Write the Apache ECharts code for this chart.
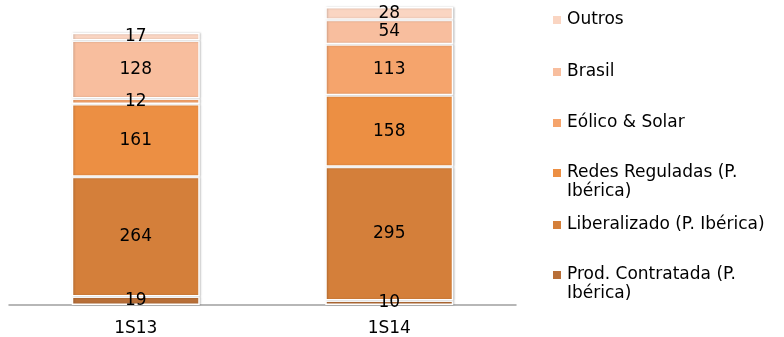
<html lang="en">
  <head>
    <meta charset="UTF-8" />
    <title>Document</title>
  </head>
  <body style="margin: 0">
    <div id="main" style="width: 784px; height: 337px"></div>

    <script src="https://cdn.jsdelivr.net/npm/echarts@6/dist/echarts.min.js"></script>
    <script>
      // dados
      const categories = ['1S13', '1S14']
      const prodContratada = [19, 10]
      const liberalizado = [264, 295]
      const redesReguladas = [161, 158]
      const eolicoSolar = [12, 113]
      const brasil = [128, 54]
      const outros = [17, 28]

      const seriesNames = [
        'Prod. Contratada (P. Ibérica)',
        'Liberalizado (P. Ibérica)',
        'Redes Reguladas (P. Ibérica)',
        'Eólico & Solar',
        'Brasil',
        'Outros'
      ]
      const seriesData = [prodContratada, liberalizado, redesReguladas, eolicoSolar, brasil, outros]
      const colors = ['#B86F38', '#D47F3A', '#EC8F43', '#F5A46C', '#F8BE9E', '#FAD5C2']

      const font = 'DejaVu Sans'

      // legenda: texto por linha e posição vertical do marcador (centro)
      // linha vazia inicial: o marcador fica alinhado com a 1ª linha do texto
      const legendText = {
        'Outros': 'Outros',
        'Brasil': 'Brasil',
        'Eólico & Solar': 'Eólico & Solar',
        'Redes Reguladas (P. Ibérica)': ' \nRedes Reguladas (P.\nIbérica)',
        'Liberalizado (P. Ibérica)': 'Liberalizado (P. Ibérica)',
        'Prod. Contratada (P. Ibérica)': ' \nProd. Contratada (P.\nIbérica)'
      }
      const legendCenters = [20, 72, 123, 173, 225, 275]
      const legendOrder = seriesNames.slice().reverse()

      const legends = legendOrder.map((name, i) => {
        const multi = legendText[name].indexOf('\n') >= 0
        return {
          data: [name],
          orient: 'vertical',
          left: 551,
          top: multi ? legendCenters[i] - 28.5 : legendCenters[i] - 9.5,
          padding: 0,
          itemWidth: 10,
          itemHeight: 10,
          itemGap: 0,
          icon: 'rect',
          selectedMode: false,
          formatter: (n) => legendText[n],
          textStyle: {
            fontFamily: font,
            fontSize: 17,
            color: '#000',
            lineHeight: 19
          }
        }
      })

      const option = {
        animation: false,
        color: colors,
        grid: { left: 9, top: 7, width: 507, bottom: 32 },
        legend: legends,
        xAxis: {
          type: 'category',
          data: categories,
          axisLine: { lineStyle: { color: '#A0A0A0', width: 1.5 } },
          axisTick: { show: false },
          axisLabel: {
            margin: 15,
            fontFamily: font,
            fontSize: 17,
            color: '#000'
          }
        },
        yAxis: {
          type: 'value',
          min: 0,
          max: (v) => v.max,
          show: false,
          splitLine: { show: false }
        },
        series: seriesNames.map((name, i) => ({
          name: name,
          type: 'bar',
          stack: 'total',
          barWidth: 128,
          data: seriesData[i],
          itemStyle: {
            borderColor: '#fff',
            borderWidth: 1.5,
            shadowBlur: 2,
            shadowColor: 'rgba(0,0,0,0.2)',
            shadowOffsetX: 1
          },
          label: {
            show: true,
            position: 'inside',
            fontFamily: font,
            fontSize: 17,
            color: '#000'
          }
        }))
      }
      echarts.init(document.querySelector('#main')).setOption(option)
    </script>
  </body>
</html>
